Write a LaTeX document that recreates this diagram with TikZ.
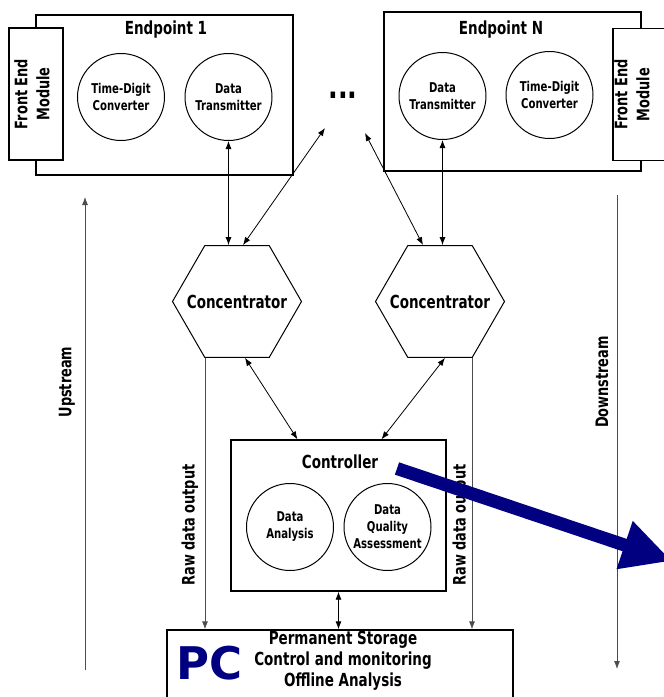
\documentclass[tikz,border=0pt]{standalone}
\usepackage{fontspec}
\setmainfont{DejaVu Sans}[FakeStretch=0.75]
\newfontfamily\pcfont{DejaVu Sans}
\usetikzlibrary{shapes.geometric,arrows.meta}
\definecolor{pcblue}{RGB}{0,0,128}

\begin{document}
\begin{tikzpicture}[x=1pt, y=-1pt,
  every node/.style={font=\bfseries},
  box/.style={draw, line width=1.3pt, fill=white, inner sep=0pt},
  unit/.style={draw, circle, line width=1pt, minimum size=87pt, inner sep=0pt,
    align=center, font=\bfseries\fontsize{13.5}{17}\selectfont},
  hub/.style={draw, regular polygon, regular polygon sides=6, minimum size=129pt,
    inner sep=0pt, line width=1pt},
  title/.style={font=\bfseries\fontsize{18}{21}\selectfont},
  side/.style={font=\bfseries\fontsize{17.2}{22}\selectfont, rotate=90},
  link/.style={{Latex[length=8pt,width=6pt]}-{Latex[length=8pt,width=6pt]}, line width=0.8pt},
  flow/.style={-{Latex[length=8pt,width=6pt]}, line width=0.8pt, draw=black!70},
]
  \useasboundingbox (0,0) rectangle (664,697);

  % endpoints
  \node[box, minimum width=257pt, minimum height=160pt] (ep1) at (164.5,95) {};
  \node[title] (ep1t) at (166,30) {Endpoint 1};
  \node[box, rotate=90, minimum width=132pt, minimum height=54pt] (fem1) at (36,94) {};
  \node[side, align=center] (fem1t) at (32,94) {Front End\\Module};
  \node[unit] (tdc1) at (121,97) {Time-Digit\\Converter};
  \node[unit] (dt1) at (228.5,97) {Data\\Transmitter};

  \node[box, minimum width=257pt, minimum height=159pt] (epN) at (512.5,91.5) {};
  \node[title] (epNt) at (501,30) {Endpoint N};
  \node[box, rotate=90, minimum width=132pt, minimum height=70pt] (femN) at (648,94.5) {};
  \node[side, align=center] (femNt) at (632,94.5) {Front End\\Module};
  \node[unit] (dtN) at (442.5,96) {Data\\Transmitter};
  \node[unit] (tdcN) at (549.5,95) {Time-Digit\\Converter};

  \node[font=\bfseries\fontsize{34}{34}\selectfont] (dots) at (343,95) {...};

  % concentrators
  \node[hub] (con1) at (237,301.5) {};
  \node[title] (con1t) at (con1) {Concentrator};
  \node[hub] (con2) at (440,301.5) {};
  \node[title] (con2t) at (con2) {Concentrator};

  % controller
  \node[box, minimum width=215pt, minimum height=151pt] (ctrl) at (338.5,515.5) {};
  \node[title] (ctrlt) at (340,462) {Controller};
  \node[unit] (da) at (290,527) {Data\\Analysis};
  \node[unit] (dqa) at (387.5,527) {Data\\Quality\\Assessment};

  % pc
  \node[box, minimum width=346pt, minimum height=80pt] (pc) at (340,670) {};
  \node[font=\pcfont\bfseries\fontsize{45}{45}\selectfont, text=pcblue] (pct) at (210,663) {PC};
  \node[align=center, font=\bfseries\fontsize{18}{21}\selectfont] (pcinfo) at (343,661)
    {Permanent Storage\\Control and monitoring\\Offline Analysis};

  \coordinate (dl) at (325,128);
  \coordinate (dr) at (365,133);
  \coordinate (us0) at (85,670);
  \coordinate (us1) at (85,197);
  \coordinate (ds0) at (617,195);
  \coordinate (ds1) at (617,669);
  \coordinate (bs) at (397,468.5);
  \coordinate (be) at (672,561);

	\draw[link] (dt1.south) -- (dt1.south |- con1.north);
	\draw[link] (dtN.south) -- (dtN.south |- con2.north);
	\draw[link] ([xshift=6pt]con1.north) -- (dl);
	\draw[link] ([xshift=-17pt]con2.north) -- (dr);
	\draw[link] ([xshift=8pt]con1.south) -- ([xshift=-41pt]ctrl.north);
	\draw[link] ([xshift=5pt]con2.south) -- ([xshift=43pt]ctrl.north);
	\draw[link] (ctrl.south) -- (ctrl.south |- pc.north);
	\draw[flow] ([xshift=-32pt]con1.south) -- ([xshift=-32pt]con1.south |- pc.north);
	\draw[flow] ([xshift=32pt]con2.south) -- ([xshift=32pt]con2.south |- pc.north);
	\draw[flow] (us0) -- (us1);
	\draw[flow] (ds0) -- (ds1);

  \node[side] (raw1) at (190,525) {Raw data output};
  \node[side] (raw2) at (461,525) {Raw data output};
  \node[side] (ups) at (67,382) {Upstream};
  \node[side] (downs) at (602,382) {Downstream};

	\draw[pcblue, line width=13pt, -{Triangle[length=50pt,width=47pt]}] (bs) -- (be);

\end{tikzpicture}
\end{document}
